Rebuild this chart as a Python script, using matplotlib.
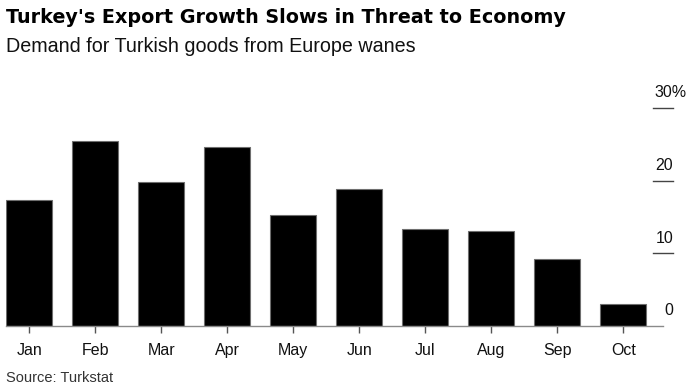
import matplotlib
matplotlib.use("Agg")
import matplotlib.pyplot as plt
import matplotlib.transforms as mtransforms

months = ["Jan", "Feb", "Mar", "Apr", "May", "Jun", "Jul", "Aug", "Sep", "Oct"]
growth = [17.3, 25.4, 19.8, 24.7, 15.3, 18.8, 13.4, 13.1, 9.2, 3.0]
ytick_vals = [0, 10, 20, 30]
ytick_labels = ["0", "10", "20", "30%"]

title = "Turkey's Export Growth Slows in Threat to Economy"
subtitle = "Demand for Turkish goods from Europe wanes"
source = "Source: Turkstat"

plt.rcParams["font.family"] = ["Liberation Sans", "DejaVu Sans"]

W, H = 698, 388
fig = plt.figure(figsize=(W / 100, H / 100), dpi=100)
ax_left, ax_right = 6, 663
ax_top, ax_bottom = 108, 326
ax = fig.add_axes([ax_left / W, (H - ax_bottom) / H,
                   (ax_right - ax_left) / W, (ax_bottom - ax_top) / H])

x = list(range(len(months)))
ax.bar(x, growth, width=0.7, color="black", edgecolor="#6e6e6e", linewidth=0.8, zorder=2)
ax.set_xlim(-0.35, 9.6)
ax.set_ylim(0, 30)

for s in ["top", "right", "left"]:
    ax.spines[s].set_visible(False)
ax.spines["bottom"].set_color("#8a8a8a")
ax.spines["bottom"].set_linewidth(1.0)
ax.spines["bottom"].set_zorder(3)

ax.set_xticks(x)
ax.set_xticklabels(months, fontsize=11.5, color="#111111")
ax.tick_params(axis="x", length=5, width=1, color="#555555", pad=7)
ax.set_yticks([])

# right-side value markers
trans = mtransforms.blended_transform_factory(ax.transAxes, ax.transData)
x0 = (653 - ax_left) / (ax_right - ax_left)
x1 = (673 - ax_left) / (ax_right - ax_left)
x1p = (687 - ax_left) / (ax_right - ax_left)
for v, lab in zip(ytick_vals, ytick_labels):
    if v != 0:
        ax.plot([x0, x1], [v, v], transform=trans, color="#444444", lw=1.0, clip_on=False)
    xx = x1p if lab.endswith("%") else x1
    ax.text(xx, v + 2.1, lab, transform=trans, ha="right", va="center",
            fontsize=11.5, color="#111111", clip_on=False)

fig.text(6 / W, 1 - 17.5 / H, title, fontsize=13.8, fontweight="bold", ha="left", va="center",
         color="black", family=["DejaVu Sans"])
fig.text(6 / W, 1 - 46 / H, subtitle, fontsize=14.2, ha="left", va="center", color="#111111")
fig.text(6 / W, 1 - 378 / H, source, fontsize=10.5, ha="left", va="center", color="#333333")

fig.savefig("out.png", dpi=100)
